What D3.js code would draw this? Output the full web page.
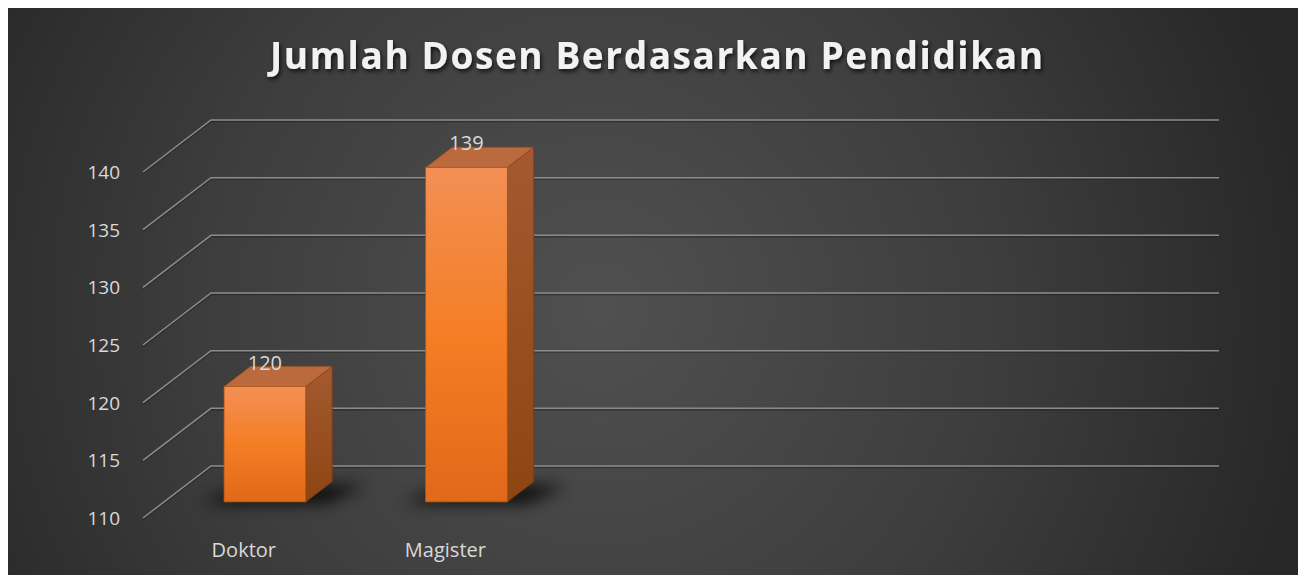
<!DOCTYPE html>
<html>
<head>
<meta charset="utf-8">
<script src="https://cdn.jsdelivr.net/npm/d3@7"></script>
<style>
	html, body { margin: 0; padding: 0; background: #ffffff; }
	svg { display: block; }
	text { font-family: "Open Sans", "DejaVu Sans", sans-serif; }
</style>
</head>
<body>
<svg id="chart" width="1298" height="575"></svg>
<script>
// data
var titleText = 'Jumlah Dosen Berdasarkan Pendidikan';
var categories = ['Doktor', 'Magister'];
var values = [120, 139];
var yTicks = [110, 115, 120, 125, 130, 135, 140];
var slotCount = 5; // the plot leaves room for five category slots

var W = 1298, H = 575;
var svg = d3.select('#chart');
var defs = svg.append('defs');

// background gradient
var bg = defs.append('radialGradient')
	.attr('id', 'bgGrad')
	.attr('gradientUnits', 'userSpaceOnUse')
	.attr('cx', 600).attr('cy', 310).attr('r', 720);
bg.append('stop').attr('offset', '0%').attr('stop-color', '#505050');
bg.append('stop').attr('offset', '55%').attr('stop-color', '#3d3d3d');
bg.append('stop').attr('offset', '100%').attr('stop-color', '#272727');

var frontGrad = defs.append('linearGradient').attr('id', 'frontGrad')
	.attr('x1', 0).attr('y1', 0).attr('x2', 0).attr('y2', 1);
frontGrad.append('stop').attr('offset', '0%').attr('stop-color', '#f38f55');
frontGrad.append('stop').attr('offset', '50%').attr('stop-color', '#f47e24');
frontGrad.append('stop').attr('offset', '100%').attr('stop-color', '#e0691a');

var sideGrad = defs.append('linearGradient').attr('id', 'sideGrad')
	.attr('x1', 0).attr('y1', 0).attr('x2', 0).attr('y2', 1);
sideGrad.append('stop').attr('offset', '0%').attr('stop-color', '#a35a30');
sideGrad.append('stop').attr('offset', '100%').attr('stop-color', '#8f4512');

var blur = defs.append('filter').attr('id', 'blur')
	.attr('x', '-50%').attr('y', '-100%').attr('width', '200%').attr('height', '300%');
blur.append('feGaussianBlur').attr('stdDeviation', 8);

var tshadow = defs.append('filter').attr('id', 'tshadow')
	.attr('x', '-10%').attr('y', '-30%').attr('width', '120%').attr('height', '160%');
tshadow.append('feDropShadow').attr('dx', 1.5).attr('dy', 2.5)
	.attr('stdDeviation', 2).attr('flood-color', '#000').attr('flood-opacity', 0.75);

svg.append('rect')
	.attr('x', 8).attr('y', 8)
	.attr('width', W - 8).attr('height', H - 8)
	.attr('fill', 'url(#bgGrad)');

// plot geometry (front plane + depth offset)
var frontLeft = 143, frontRight = 1151;
var depthX = 68, depthY = -52;
var barDepthStart = 0.31, barDepthEnd = 0.70;

var slotW = (frontRight - frontLeft) / slotCount;
var x = d3.scaleBand()
	.domain(categories)
	.range([frontLeft, frontLeft + slotW * categories.length]);

var y = d3.scaleLinear()
	.domain([110, 140])
	.range([518, 172]);

// gridlines: diagonal on the side wall + back wall line
var grid = svg.append('g');
yTicks.forEach(function(t) {
	var yf = y(t);
	var d = 'M' + frontLeft + ',' + yf + 'L' + (frontLeft + depthX) + ',' + (yf + depthY) + 'L' + (frontRight + depthX) + ',' + (yf + depthY);
	grid.append('path')
		.attr('d', d)
		.attr('fill', 'none')
		.attr('stroke', '#1e1e1e')
		.attr('stroke-opacity', 0.5)
		.attr('stroke-width', 1.5)
		.attr('transform', 'translate(0,1.4)');
	grid.append('path')
		.attr('d', d)
		.attr('fill', 'none')
		.attr('stroke', '#8c8c8c')
		.attr('stroke-width', 1.5);
});

// y axis labels
svg.append('g').selectAll('text')
	.data(yTicks)
	.enter().append('text')
	.attr('x', 120)
	.attr('y', function(d) { return y(d) + 7; })
	.attr('text-anchor', 'end')
	.attr('font-size', 19)
	.attr('fill', '#d9d9d9')
	.text(function(d) { return d; });

// bars
var bars = svg.append('g');
var bw = x.bandwidth() * 0.405;
categories.forEach(function(c, i) {
	var v = values[i];
	var cx = x(c) + x.bandwidth() / 2 + depthX * barDepthStart;
	var x0 = cx - bw / 2, x1 = cx + bw / 2;
	var yb = y(110) + depthY * barDepthStart;
	var yt = y(v) + depthY * barDepthStart;
	var ddx = depthX * (barDepthEnd - barDepthStart);
	var ddy = depthY * (barDepthEnd - barDepthStart);

	// floor shadow
	bars.append('path')
		.attr('d', 'M' + (x0 - 22) + ',' + (yb + 1) + 'L' + (x1 + 20) + ',' + (yb + 1) +
			'L' + (x1 + ddx + 34) + ',' + (yb + ddy + 4) + 'L' + (x0 + ddx - 6) + ',' + (yb + ddy + 4) + 'Z')
		.attr('fill', '#000')
		.attr('opacity', 0.85)
		.attr('filter', 'url(#blur)');

	// side face
	bars.append('path')
		.attr('d', 'M' + x1 + ',' + yt + 'L' + (x1 + ddx) + ',' + (yt + ddy) + 'L' + (x1 + ddx) + ',' + (yb + ddy) + 'L' + x1 + ',' + yb + 'Z')
		.attr('fill', 'url(#sideGrad)')
		.attr('stroke', '#7a3a10').attr('stroke-width', 0.8);
	// top face
	bars.append('path')
		.attr('d', 'M' + x0 + ',' + yt + 'L' + (x0 + ddx) + ',' + (yt + ddy) + 'L' + (x1 + ddx) + ',' + (yt + ddy) + 'L' + x1 + ',' + yt + 'Z')
		.attr('fill', '#bb6a3e')
		.attr('stroke', '#8a4a22').attr('stroke-width', 0.8);
	// front face
	bars.append('rect')
		.attr('x', x0).attr('y', yt)
		.attr('width', bw).attr('height', yb - yt)
		.attr('fill', 'url(#frontGrad)')
		.attr('stroke', '#b4561a').attr('stroke-width', 0.8);

	// data label
	bars.append('text')
		.attr('x', cx)
		.attr('y', yt - 17)
		.attr('text-anchor', 'middle')
		.attr('font-size', 20)
		.attr('fill', '#d9d9d9')
		.text(v);
});

// x axis labels
svg.append('g').selectAll('text')
	.data(categories)
	.enter().append('text')
	.attr('x', function(d) { return x(d) + x.bandwidth() / 2; })
	.attr('y', 557)
	.attr('text-anchor', 'middle')
	.attr('font-size', 20)
	.attr('fill', '#d9d9d9')
	.text(function(d) { return d; });

// title
svg.append('text')
	.attr('x', 270)
	.attr('y', 69)
	.attr('font-size', 37)
	.attr('font-weight', 'bold')
	.attr('fill', '#f2f2f2')
	.attr('textLength', 773)
	.attr('lengthAdjust', 'spacing')
	.attr('filter', 'url(#tshadow)')
	.text(titleText);
</script>
</body>
</html>
